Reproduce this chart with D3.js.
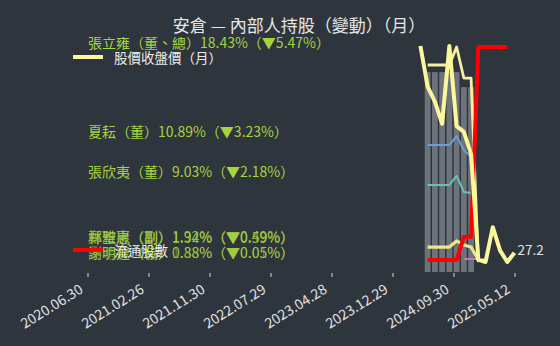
<!DOCTYPE html>
<html>
<head>
<meta charset="utf-8">
<script src="https://cdn.jsdelivr.net/npm/d3@7/dist/d3.min.js"></script>
<style>
  body { margin: 0; background: #2f353d; }
  svg { display: block; font-family: "Noto Sans CJK TC", "Noto Sans", sans-serif; }
</style>
</head>
<body>
<div id="chart"></div>
<script>
// 安倉 內部人持股（月）
const width = 560;
const height = 346;
const plot = { left: 87.5, right: 514.5, top: 46, bottom: 272 };

// x axis: months from 2020.06 to 2025.05, ticks spread evenly
const firstMonth = "2020.06";
const lastMonth = "2025.05";
const tickLabels = ["2020.06.30", "2021.02.26", "2021.11.30", "2022.07.29",
                    "2023.04.28", "2023.12.29", "2024.09.30", "2025.05.12"];

// 股價收盤價（月）
const priceMonths = ["2024.04", "2024.05", "2024.06", "2024.07", "2024.08", "2024.09", "2024.10",
                     "2024.11", "2024.12", "2025.01", "2025.02", "2025.03", "2025.04", "2025.05"];
const priceValues = [45.0, 41.5, 40.2, 38.3, 45.0, 38.1, 37.6, 35.7, 26.6, 26.4, 29.4, 27.4, 26.4, 27.2];

// 內部人持股（張）, monthly
const holdMonths = ["2024.05", "2024.06", "2024.07", "2024.08", "2024.09",
                    "2024.10", "2024.11", "2024.12", "2025.01"];
const barTotal = [53.3, 53.3, 53.3, 53.3, 53.3, 49.3, 49.3];          // 合計持股 %
const holdZhangLY = [9200, 9200, 9200, 9200, 10000, 8620, 8620, 440];  // 張立雍
const holdXiaY = [5640, 5640, 5640, 5640, 6040, 5420, 5110];           // 夏耘
const holdZhangXY = [3870, 3870, 3870, 3870, 4270, 3560, 3510];        // 張欣夷
const holdZheng = [1110, 1110, 1110, 1110, 1380, 1200, 1110, 530, 530];
const holdLin = [null, null, null, null, null, 580, 580, 580];

// 流通股數（百萬股）
const floatMonths = ["2024.05", "2024.06", "2024.07", "2024.08", "2024.09", "2024.10",
                     "2024.11", "2024.12", "2025.01", "2025.02", "2025.03", "2025.04"];
const floatShares = [6.4, 6.4, 6.4, 6.4, 6.4, 18.7, 18.7, 120, 120, 120, 120, 120];

const holderLabels = ["張立雍（董、總）18.43%（▼5.47%）", "夏耘（董）10.89%（▼3.23%）",
                      "張欣夷（董）9.03%（▼2.18%）", "鄭雅惠（副）1.92%（▼0.49%）",
                      "林聖崴（副）1.34%（▼0.59%）", "黎聰賢（協）1.38%（▼0.01%）",
                      "謝明達（協）0.88%（▼0.05%）"];
const labelRows = [42, 131, 171, 236, 237, 252, 252];
const labelOpacity = [1, 1, 1, 0.85, 0.85, 0.45, 0.9];

function monthIndex(s) {
  const a = s.split(".").map(Number), b = firstMonth.split(".").map(Number);
  return (a[0] - b[0]) * 12 + (a[1] - b[1]);
}

const svg = d3.select("#chart").append("svg")
    .attr("width", width)
    .attr("height", height);

svg.append("rect").attr("width", width).attr("height", height).attr("fill", "#2f353d");

const x = d3.scaleLinear()
    .domain([0, monthIndex(lastMonth)])
    .range([plot.left, plot.right]);

const yBar = d3.scaleLinear().domain([0, 60]).range([plot.bottom, 47]);
const yHold = d3.scaleLinear().domain([0, 10000]).range([plot.bottom, 47]);
const yFloat = d3.scaleLinear().domain([0, 120]).range([plot.bottom, 47]);
const yPrice = d3.scaleLinear().domain(d3.extent(priceValues)).range([262, 46]);

const step = x(1) - x(0);
const barW = step * 0.8;

// bars
svg.append("g").selectAll("rect")
    .data(barTotal)
    .enter().append("rect")
    .attr("x", function(d, i) { return x(monthIndex(holdMonths[i])) - barW / 2; })
    .attr("y", function(d) { return yBar(d); })
    .attr("width", barW)
    .attr("height", function(d) { return yBar(0) - yBar(d); })
    .attr("fill", "#6d737a");

function drawLine(months, values, yScale, color, w) {
  const line = d3.line()
      .defined(function(d) { return d != null; })
      .x(function(d, i) { return x(monthIndex(months[i])); })
      .y(function(d) { return yScale(d); });
  svg.append("path")
      .datum(values)
      .attr("fill", "none")
      .attr("stroke", color)
      .attr("stroke-width", w)
      .attr("stroke-linejoin", "round")
      .attr("d", line);
}

drawLine(holdMonths, holdZhangXY, yHold, "#68c1b3", 2);
drawLine(holdMonths, holdXiaY, yHold, "#6d9ed3", 2);
drawLine(holdMonths, holdLin, yHold, "#c07bb0", 2);
drawLine(holdMonths, holdZheng, yHold, "#ece68c", 3.2);
drawLine(holdMonths, holdZhangLY, yHold, "#f6f1a2", 2.8);
drawLine(floatMonths, floatShares, yFloat, "#ff0000", 4);
drawLine(priceMonths, priceValues, yPrice, "#fdf79c", 4);

// last price
const lastP = priceValues[priceValues.length - 1];
svg.append("text")
    .attr("x", x(monthIndex(priceMonths[priceMonths.length - 1])) + 3)
    .attr("y", yPrice(lastP) - 4)
    .attr("dominant-baseline", "central")
    .style("font-size", "13.5px")
    .attr("fill", "#e4e4e4")
    .text(lastP.toFixed(1));

// x axis
const tickPos = tickLabels.map(function(d, i) { return i * monthIndex(lastMonth) / (tickLabels.length - 1); });
const xAxis = svg.append("g")
    .attr("transform", "translate(0," + 273 + ")")
    .call(d3.axisBottom(x).tickValues(tickPos).tickSize(4)
      .tickFormat(function(d, i) { return tickLabels[i]; }));
xAxis.select(".domain").remove();
xAxis.selectAll("line").attr("stroke", "#d8d8d8");
xAxis.selectAll("text")
    .attr("x", 0).attr("y", 0).attr("dy", 0)
    .attr("transform", "translate(-4,19) rotate(-32)")
    .style("text-anchor", "end")
    .style("font-size", "14px")
    .style("font-family", "'Noto Sans CJK TC', sans-serif")
    .attr("fill", "#e2e2e2");

// holder labels (clipped at the top of the plot)
svg.append("clipPath").attr("id", "lblclip")
  .append("rect").attr("x", 0).attr("y", 37).attr("width", width).attr("height", height);

svg.append("g").attr("clip-path", "url(#lblclip)")
  .selectAll("text")
    .data(holderLabels)
    .enter().append("text")
    .attr("x", 88)
    .attr("y", function(d, i) { return labelRows[i]; })
    .attr("dominant-baseline", "central")
    .style("font-size", "14px")
    .attr("fill", "#a5d43f")
    .attr("opacity", function(d, i) { return labelOpacity[i]; })
    .text(function(d) { return d; });

// legend
const legendItems = [
  { name: "股價收盤價（月）", color: "#fdf79c", y: 57, x: 73 },
  { name: "流通股數", color: "#ff0000", y: 250, x: 73 }
];
const legend = svg.selectAll(".legend")
    .data(legendItems)
    .enter().append("g")
    .attr("class", "legend")
    .attr("transform", function(d) { return "translate(" + d.x + "," + d.y + ")"; });
legend.append("line")
    .attr("x1", 0).attr("x2", 30)
    .attr("stroke", function(d) { return d.color; })
    .attr("stroke-width", 4);
legend.append("text")
    .attr("x", 41)
    .attr("dominant-baseline", "central")
    .style("font-size", "13.5px")
    .attr("fill", "#ececec")
    .text(function(d) { return d.name; });

// title
svg.append("text")
    .attr("x", 299)
    .attr("y", 24)
    .attr("text-anchor", "middle")
    .attr("dominant-baseline", "central")
    .style("font-size", "17px")
    .attr("fill", "#e6e6e6")
    .text("安倉 — 內部人持股（變動）（月）");
</script>
</body>
</html>
